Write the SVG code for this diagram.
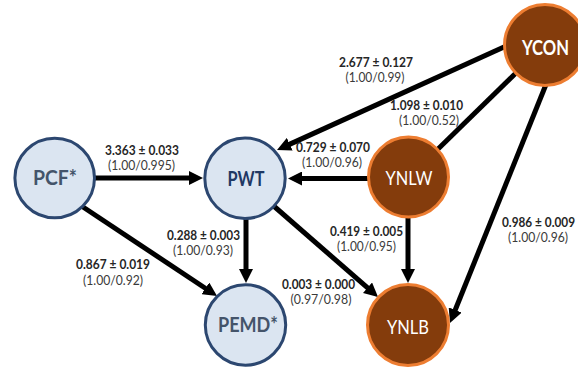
<svg xmlns="http://www.w3.org/2000/svg" width="578" height="369" viewBox="0 0 578 369">
  <style>
    .blue { fill: #dbe5f1; stroke: #2c4770; stroke-width: 3; }
    .brown { fill: #843c0c; stroke: #ed7d31; stroke-width: 3; }
    .edge { stroke: #000; stroke-width: 5; fill: none; }
    .arrow { marker-end: url(#head); }
    .node { font-family: Lato, "Liberation Sans", sans-serif; font-size: 20px; text-anchor: middle; }
    .lab { font-family: Lato, "Liberation Sans", sans-serif; font-size: 12.5px; text-anchor: middle; }
    .v { font-weight: bold; fill: #262626; }
    .r { fill: #3a3a3a; }
  </style>
  <defs>
    <marker id="head" viewBox="0 0 14 14" refX="4" refY="7" markerWidth="14" markerHeight="14" markerUnits="userSpaceOnUse" orient="auto">
      <path d="M0,0 L14,7 L0,14 Z" fill="#000"/>
    </marker>
  </defs>

  <!-- connectors: drawn first so the nodes cover their start points -->
  <g id="connectors">
    <line class="edge arrow" x1="90" y1="178" x2="193" y2="178"/>
    <line class="edge arrow" x1="80" y1="205" x2="208.7" y2="290.5"/>
    <line class="edge arrow" x1="246" y1="215" x2="246" y2="273"/>
    <line class="edge arrow" x1="272" y1="204.5" x2="370.5" y2="290.4"/>
    <line class="edge arrow" x1="372" y1="178.5" x2="298" y2="178.5"/>
    <line class="edge arrow" x1="408" y1="212" x2="408" y2="273"/>
    <line class="edge arrow" x1="510" y1="44.3" x2="286.1" y2="145.9"/>
    <line class="edge" x1="520" y1="69" x2="436" y2="151"/>
    <line class="edge arrow" x1="547" y1="82" x2="453.7" y2="313.7"/>
  </g>

  <!-- nodes -->
  <g id="PCF">
    <circle class="blue" cx="54.7" cy="178" r="39.8"/>
    <text class="node" x="55" y="185" font-weight="bold" fill="#44546a" textLength="44" lengthAdjust="spacingAndGlyphs">PCF*</text>
  </g>
  <g id="PWT">
    <circle class="blue" cx="245" cy="178.3" r="40.2"/>
    <text class="node" x="246" y="185.5" font-weight="bold" fill="#1f3864" textLength="37" lengthAdjust="spacingAndGlyphs">PWT</text>
  </g>
  <g id="PEMD">
    <circle class="blue" cx="245.5" cy="325" r="40.2"/>
    <text class="node" x="248" y="332" font-weight="bold" fill="#44546a" textLength="60" lengthAdjust="spacingAndGlyphs">PEMD*</text>
  </g>
  <g id="YCON">
    <circle class="brown" cx="545" cy="45" r="40.5"/>
    <text class="node" x="545.5" y="55" font-weight="bold" fill="#fff" textLength="47" lengthAdjust="spacingAndGlyphs">YCON</text>
  </g>
  <g id="YNLW">
    <circle class="brown" cx="408.5" cy="177" r="40"/>
    <text class="node" x="409" y="184.5" fill="#fff" textLength="47" lengthAdjust="spacingAndGlyphs">YNLW</text>
  </g>
  <g id="YNLB">
    <circle class="brown" cx="408" cy="325" r="40.5"/>
    <text class="node" x="408" y="334" fill="#fff" textLength="42" lengthAdjust="spacingAndGlyphs">YNLB</text>
  </g>

  <!-- path coefficients -->
  <g id="labels">
    <text class="lab v" x="142" y="155" textLength="74" lengthAdjust="spacingAndGlyphs">3.363 ± 0.033</text>
    <text class="lab r" x="141.5" y="169.5" textLength="67" lengthAdjust="spacingAndGlyphs">(1.00/0.995)</text>

    <text class="lab v" x="376" y="67" textLength="74" lengthAdjust="spacingAndGlyphs">2.677 ± 0.127</text>
    <text class="lab r" x="375" y="82" textLength="59" lengthAdjust="spacingAndGlyphs">(1.00/0.99)</text>

    <text class="lab v" x="426.5" y="110" textLength="73" lengthAdjust="spacingAndGlyphs">1.098 ± 0.010</text>
    <text class="lab r" x="429" y="125" textLength="60" lengthAdjust="spacingAndGlyphs">(1.00/0.52)</text>

    <text class="lab v" x="333" y="152" textLength="74" lengthAdjust="spacingAndGlyphs">0.729 ± 0.070</text>
    <text class="lab r" x="332" y="167" textLength="60" lengthAdjust="spacingAndGlyphs">(1.00/0.96)</text>

    <text class="lab v" x="203.5" y="239.5" textLength="73" lengthAdjust="spacingAndGlyphs">0.288 ± 0.003</text>
    <text class="lab r" x="203" y="255" textLength="60" lengthAdjust="spacingAndGlyphs">(1.00/0.93)</text>

    <text class="lab v" x="113" y="269" textLength="74" lengthAdjust="spacingAndGlyphs">0.867 ± 0.019</text>
    <text class="lab r" x="113" y="284.5" textLength="60" lengthAdjust="spacingAndGlyphs">(1.00/0.92)</text>

    <text class="lab v" x="366.5" y="236" textLength="73" lengthAdjust="spacingAndGlyphs">0.419 ± 0.005</text>
    <text class="lab r" x="366.5" y="251" textLength="59" lengthAdjust="spacingAndGlyphs">(1.00/0.95)</text>

    <text class="lab v" x="318.5" y="289" textLength="73" lengthAdjust="spacingAndGlyphs">0.003 ± 0.000</text>
    <text class="lab r" x="321" y="304" textLength="61" lengthAdjust="spacingAndGlyphs">(0.97/0.98)</text>

    <text class="lab v" x="538.5" y="227" textLength="73" lengthAdjust="spacingAndGlyphs">0.986 ± 0.009</text>
    <text class="lab r" x="538" y="242" textLength="60" lengthAdjust="spacingAndGlyphs">(1.00/0.96)</text>
  </g>
</svg>
